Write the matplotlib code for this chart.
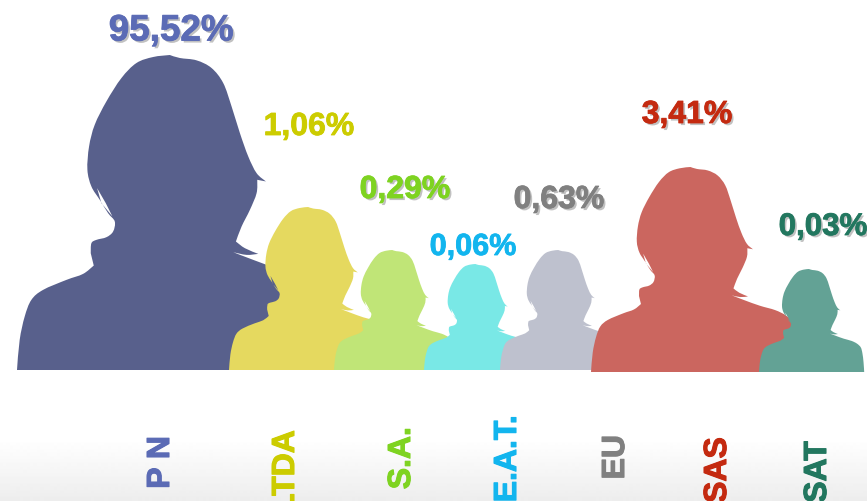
import numpy as np
import matplotlib
matplotlib.use('Agg')
from matplotlib import pyplot as plt
from matplotlib.path import Path
from matplotlib.patches import PathPatch
from matplotlib.transforms import Affine2D
import matplotlib.patheffects as pe

plt.rcParams['font.family'] = ['Liberation Sans', 'DejaVu Sans']

# valores
labels = ['P N', 'CIA.LTDA', 'S.A.', 'E.A.T.', 'EU', 'SAS', 'SAT']
percents = ['95,52%', '1,06%', '0,29%', '0,06%', '0,63%', '3,41%', '0,03%']
heights = [315, 163, 120, 106, 120, 205, 103]
lefts = [17, 229, 334, 424, 500, 591, 759]
bases = [371, 371, 371, 371, 371, 373, 373]
fill_colors = ['#58608c', '#e5d95f', '#c0e577', '#79e8e6', '#bec1ce', '#cb665f', '#63a295']
text_colors = ['#5b6bb5', '#cccc00', '#7ed321', '#12b5ee', '#808080', '#c42a10', '#22775f']

pct_x = [171, 309, 405, 473, 559, 687, 823]
pct_y = [32, 128, 191, 248, 201, 116, 228]
pct_size = [26.5, 23, 23, 22, 23, 23, 22.5]
pct_shadow = [True, False, True, False, True, True, True]

name_x = [161, 286, 402, 508, 616, 718, 818]
name_top = [437, 431, 428, 416, 436, 438, 442]

# contorno de la silueta (trazado sobre la figura grande)
outline = np.array([
    (52, 1110), (60, 1020), (75, 950), (95, 900), (130, 870), (200, 840), (250, 822), (282, 797),
    (273, 760), (275, 730), (290, 720), (320, 712), (340, 695), (345, 665), (325, 640), (300, 600),
    (275, 560), (263, 510), (268, 440), (285, 375), (320, 305), (365, 235), (410, 190), (460, 172),
    (510, 166), (540, 175), (590, 182), (635, 205), (670, 250), (695, 320), (720, 400), (745, 470),
    (770, 520), (798, 545), (772, 540), (770, 580), (750, 630), (725, 680), (708, 725), (735, 745),
    (775, 762), (740, 765), (700, 757), (760, 780), (830, 805), (900, 825), (950, 850), (985, 885),
    (1000, 940), (1010, 1020), (1016, 1110)], dtype=float)
corners = [0, 7, 8, 24, 33, 34, 38, 40, 42, 50]
slit = np.array([(292, 565), (305, 610), (338, 650), (318, 610), (292, 565)], dtype=float)


def to_unit(pts):
    out = pts.copy()
    out[:, 0] = (pts[:, 0] - 52) / 944
    out[:, 1] = (pts[:, 1] - 1110) / 944
    return out


def smooth_path(pts, corner_idx):
    # catmull-rom a bezier, cortando en las esquinas
    verts = [pts[0]]
    codes = [Path.MOVETO]
    for a, b in zip(corner_idx[:-1], corner_idx[1:]):
        run = pts[a:b + 1]
        for j in range(len(run) - 1):
            p0 = run[max(j - 1, 0)]
            p1 = run[j]
            p2 = run[j + 1]
            p3 = run[min(j + 2, len(run) - 1)]
            verts += [p1 + (p2 - p0) / 6, p2 - (p3 - p1) / 6, p2]
            codes += [Path.CURVE4] * 3
    verts += [pts[0]]
    codes += [Path.CLOSEPOLY]
    return verts, codes


v, c = smooth_path(to_unit(outline), corners)
v2 = list(to_unit(slit))
c2 = [Path.MOVETO] + [Path.LINETO] * (len(slit) - 2) + [Path.CLOSEPOLY]
silhouette = Path(np.array(v + v2), c + c2)

fig = plt.figure(figsize=(8.67, 5.02), dpi=100)
ax = fig.add_axes([0, 0, 1, 1])
ax.set_xlim(0, 867)
ax.set_ylim(502, 0)
ax.axis('off')

# degradado gris abajo
grad = np.linspace(1, 0.93, 62).reshape(-1, 1)
ax.imshow(grad, extent=(0, 867, 502, 440), cmap='gray', vmin=0, vmax=1, aspect='auto', zorder=0)
ax.set_xlim(0, 867)
ax.set_ylim(502, 0)

for i in range(len(labels)):
    tr = Affine2D().scale(heights[i]).translate(lefts[i], bases[i]) + ax.transData
    ax.add_patch(PathPatch(silhouette, facecolor=fill_colors[i], edgecolor='none',
                           transform=tr, zorder=2 + i))

    effects = [pe.withStroke(linewidth=0.6, foreground=text_colors[i])]
    if pct_shadow[i]:
        effects = [pe.SimplePatchShadow(offset=(1.5, -1.5), shadow_rgbFace='#777777', alpha=0.45)] + effects
    ax.text(pct_x[i], pct_y[i], percents[i], color=text_colors[i], fontsize=pct_size[i],
            fontweight='bold', ha='center', va='center', zorder=20, path_effects=effects)

    ax.text(name_x[i], name_top[i], labels[i], color=text_colors[i], fontsize=23, fontweight='bold',
            rotation=90, ha='center', va='top', zorder=20,
            path_effects=[pe.withStroke(linewidth=0.8, foreground=text_colors[i])])

fig.savefig('out.png', dpi=100)
